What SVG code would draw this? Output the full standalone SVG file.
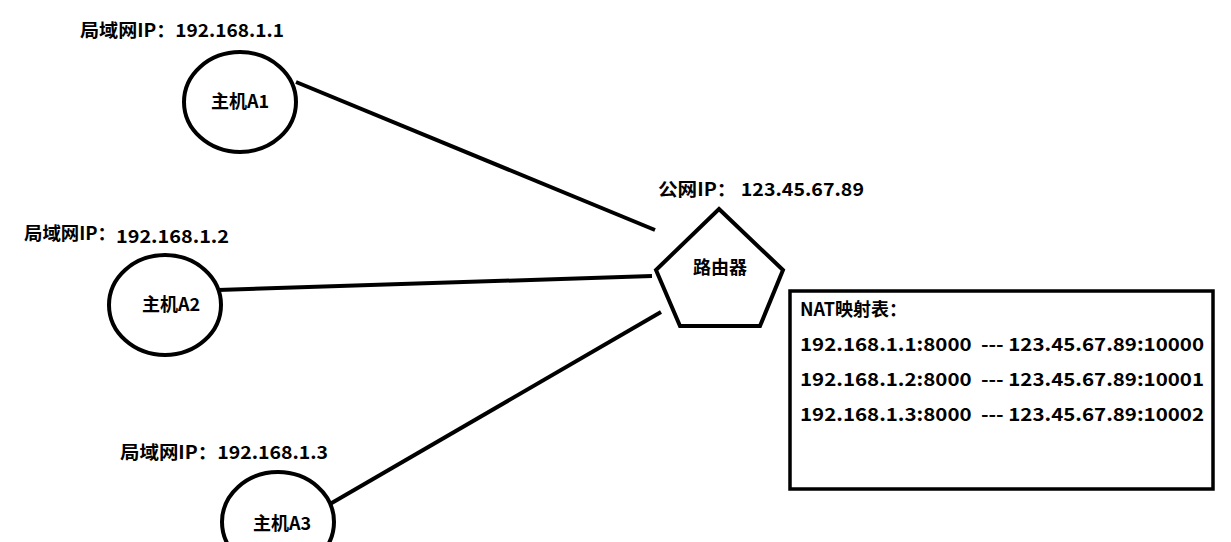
<svg xmlns="http://www.w3.org/2000/svg" width="1231" height="542" viewBox="0 0 1231 542">
<style>
text{font-family:"Noto Sans CJK SC","Noto Sans",sans-serif;font-size:18px;font-weight:bold;fill:#000}
.s{fill:none;stroke:#000;stroke-width:4}
</style>
<rect width="1231" height="542" fill="#fff"/>
<g id="connectors">
<line class="s" x1="296" y1="82" x2="655" y2="230"/>
<line class="s" x1="218" y1="290" x2="652" y2="276"/>
<line class="s" x1="330" y1="504" x2="661" y2="312"/>
</g>
<g id="hostA1"><ellipse class="s" cx="240" cy="102" rx="56" ry="50"/><text x="240" y="108" text-anchor="middle">主机A1</text><text x="80" y="37" textLength="204" lengthAdjust="spacingAndGlyphs">局域网IP：192.168.1.1</text></g>
<g id="hostA2"><ellipse class="s" cx="165" cy="305" rx="56" ry="50"/><text x="171" y="311" text-anchor="middle">主机A2</text><text x="24" y="240" textLength="92" lengthAdjust="spacingAndGlyphs">局域网IP：</text><text x="116" y="243" textLength="113" lengthAdjust="spacingAndGlyphs">192.168.1.2</text></g>
<g id="hostA3"><ellipse class="s" cx="278" cy="522" rx="56" ry="50"/><text x="282" y="530" text-anchor="middle">主机A3</text><text x="120" y="459" textLength="208" lengthAdjust="spacingAndGlyphs">局域网IP：192.168.1.3</text></g>
<g id="router"><polygon class="s" points="719,209 783,270 760,326 680,326 656,270"/><text x="720" y="274" text-anchor="middle">路由器</text><text x="658" y="196" textLength="206" lengthAdjust="spacingAndGlyphs">公网IP：  123.45.67.89</text></g>
<g id="nat"><rect x="790" y="291" width="423" height="198" fill="#fff" stroke="#000" stroke-width="3.5"/>
<text x="800" y="316">NAT映射表：</text>
<text x="800" y="351" textLength="404" lengthAdjust="spacingAndGlyphs" xml:space="preserve">192.168.1.1:8000  --- 123.45.67.89:10000</text>
<text x="800" y="386" textLength="404" lengthAdjust="spacingAndGlyphs" xml:space="preserve">192.168.1.2:8000  --- 123.45.67.89:10001</text>
<text x="800" y="421" textLength="404" lengthAdjust="spacingAndGlyphs" xml:space="preserve">192.168.1.3:8000  --- 123.45.67.89:10002</text></g>
</svg>
